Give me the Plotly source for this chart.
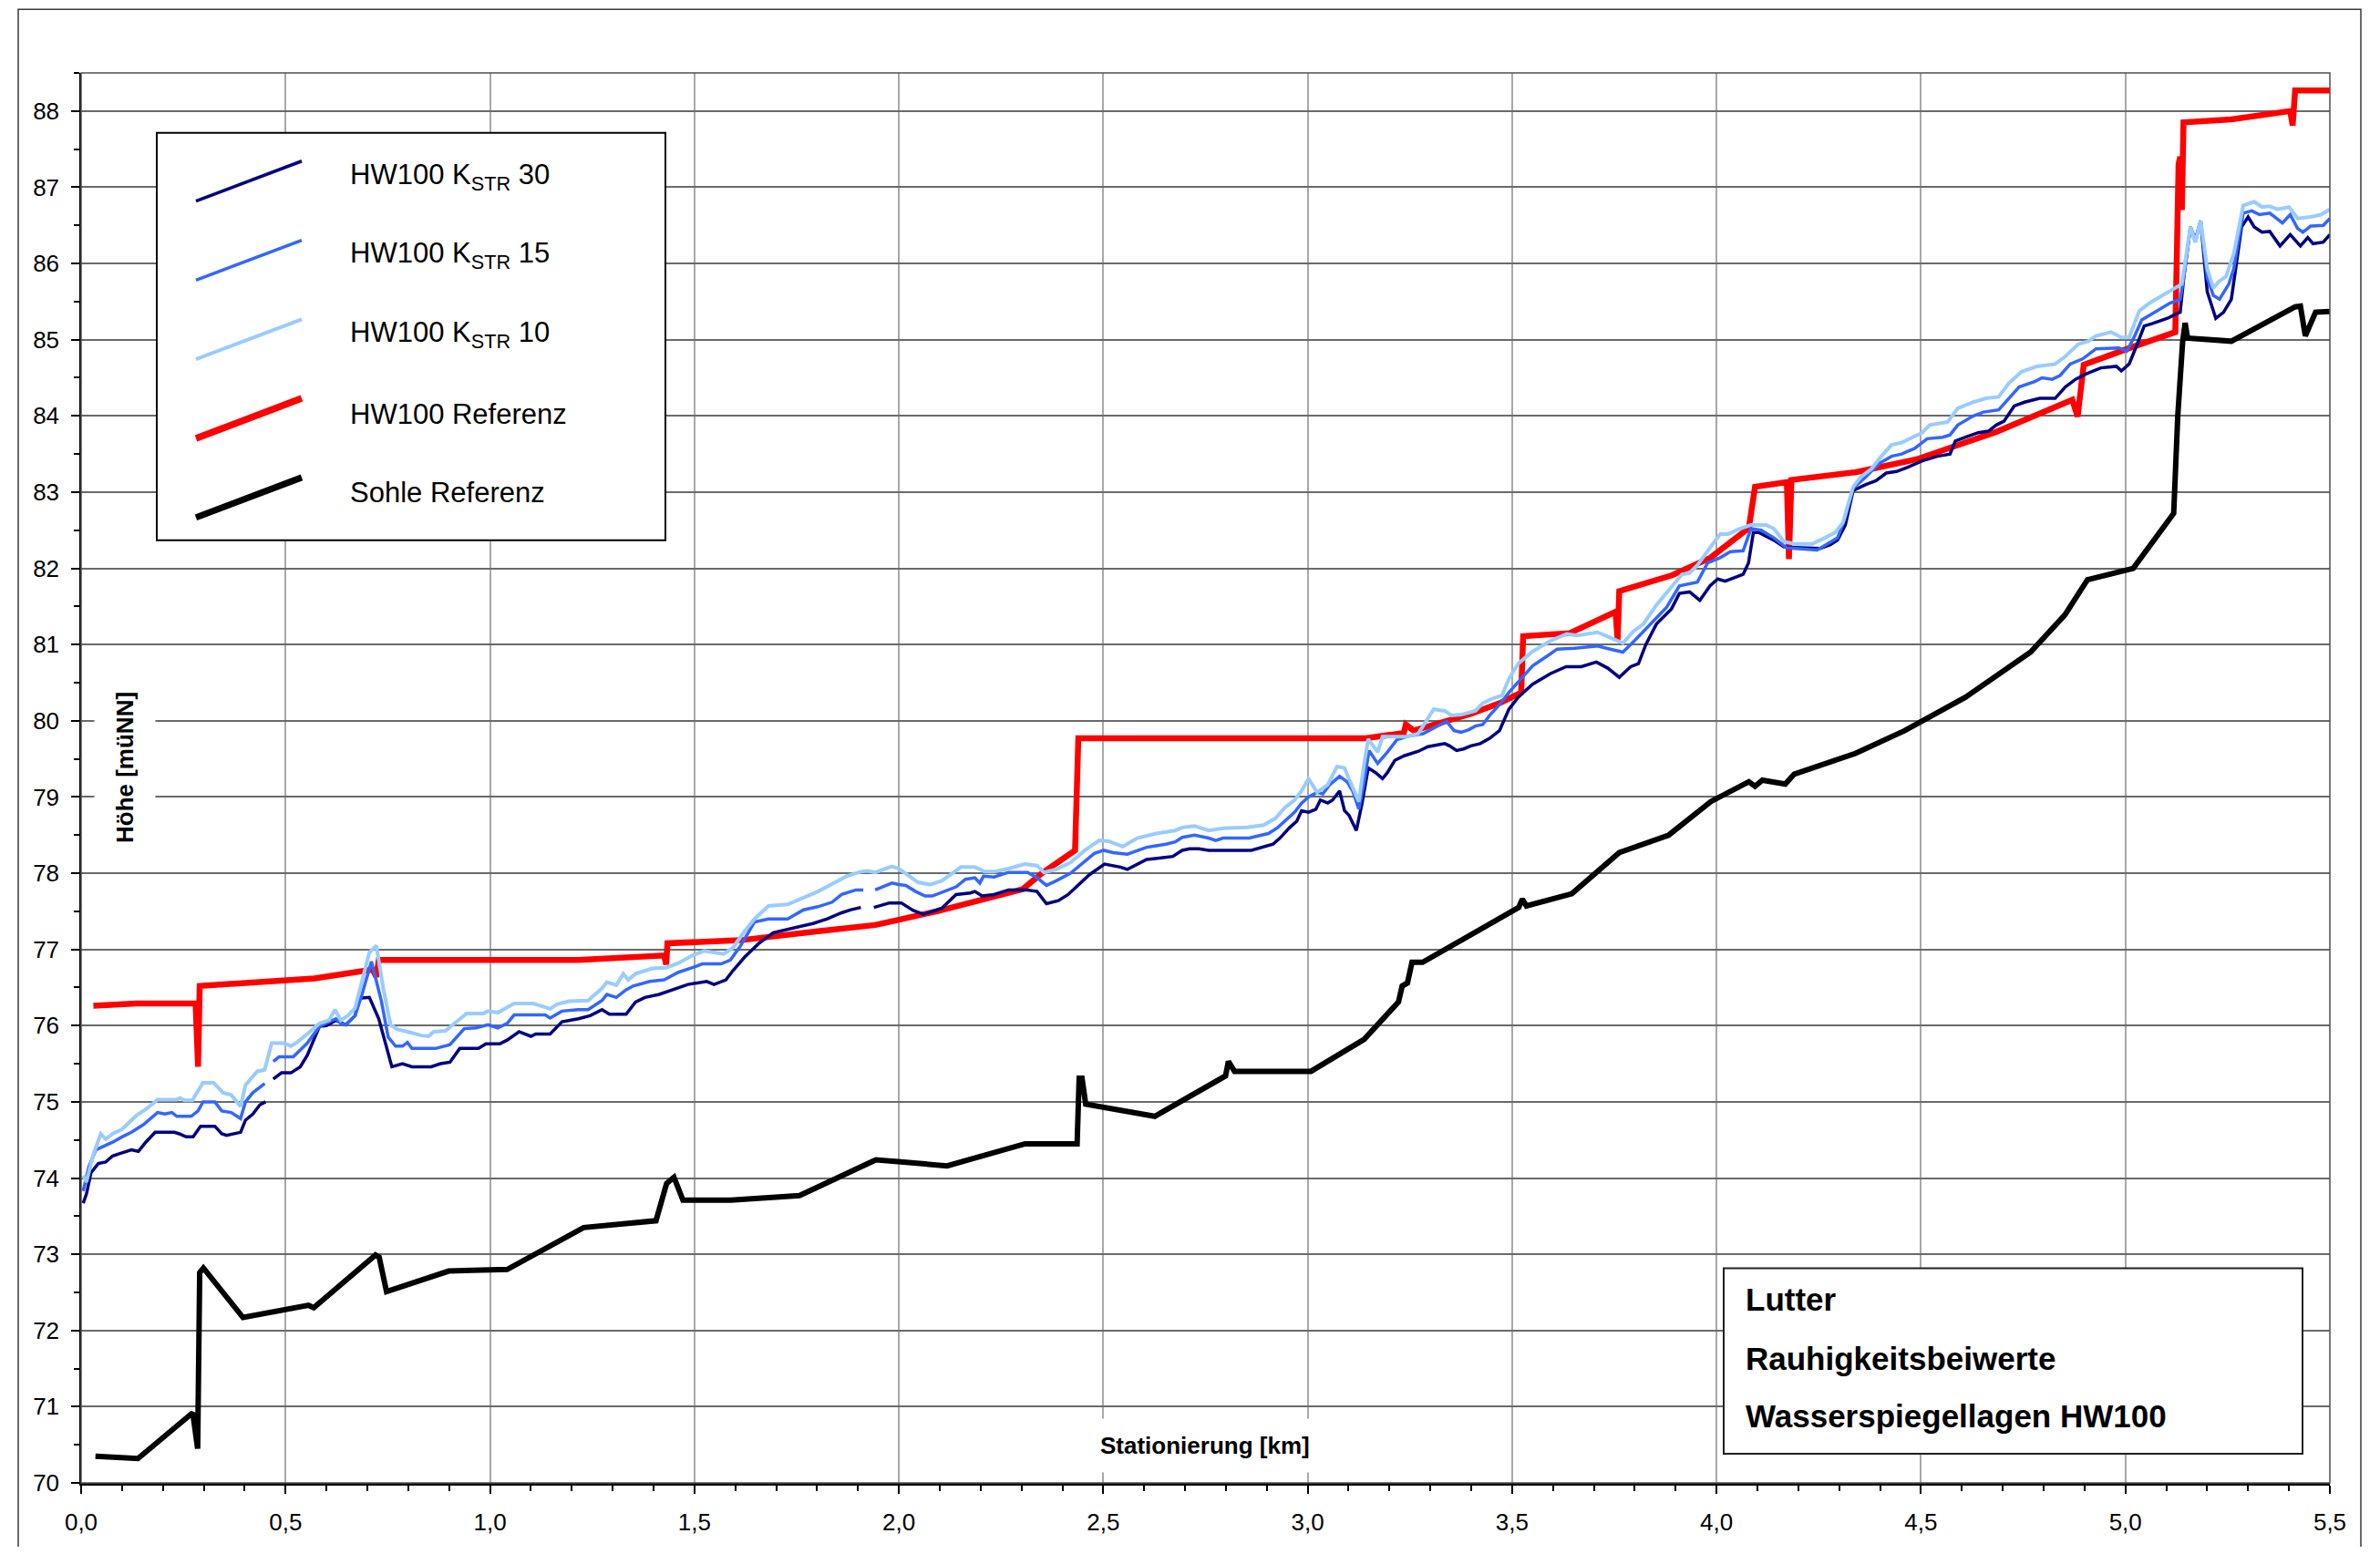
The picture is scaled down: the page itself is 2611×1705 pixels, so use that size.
import plotly.graph_objects as go

# ---------------- data ----------------
km_k30 = [0.005, 0.013, 0.024, 0.042, 0.06, 0.077, 0.1, 0.123, 0.14, 0.158, 0.181, 0.228, 0.24, 0.257, 0.274,
          0.292, 0.327, 0.344, 0.356, 0.39, 0.402, 0.42, 0.437, 0.451, None,
          0.47, 0.49, 0.513, 0.536, 0.553, 0.583, 0.6, 0.623, 0.647, 0.67, 0.681, 0.705, 0.728, 0.76, 0.786,
          0.809, 0.856, 0.879, 0.902, 0.926, 0.972, 0.99, 1.024, 1.042, 1.071, 1.1, 1.112, 1.147, 1.176, 1.216,
          1.245, 1.274, 1.292, 1.333, 1.356, 1.379, 1.414, 1.449, 1.484, 1.53, 1.548, 1.577, 1.594, 1.623,
          1.658, 1.693, 1.728, 1.763, 1.79, 1.825, 1.86, 1.883, 1.907, None,
          1.939, 1.977, 2.006, 2.035, 2.06, 2.105, 2.14, 2.175, 2.186, 2.204, 2.233, 2.268, 2.315, 2.338, 2.361,
          2.373, 2.39, 2.414, 2.437, 2.466, 2.503, 2.524, 2.542, 2.559, 2.583, 2.606, 2.641, 2.67, 2.693, 2.711,
          2.734, 2.758, 2.862, 2.892, 2.915, 2.932, 2.956, 2.973, 2.985, 3.002, 3.02, 3.031, 3.049, 3.061, 3.078,
          3.09, 3.101, 3.119, 3.133, 3.148, 3.166, 3.183, 3.195, 3.213, 3.236, 3.271, 3.294, 3.335, 3.347, 3.364,
          3.381, 3.399, 3.422, 3.445, 3.469, 3.492, 3.515, 3.55, 3.594, 3.632, 3.669, 3.706, 3.734, 3.762, 3.79,
          3.809, 3.827, 3.853, 3.89, 3.909, 3.934, 3.959, 3.984, 4.003, 4.021, 4.065, 4.078, 4.09, 4.103, 4.14,
          4.165, 4.253, 4.278, 4.296, 4.315, 4.334, 4.365, 4.39, 4.415, 4.44, 4.465, 4.503, 4.54, 4.571, 4.584,
          4.609, 4.64, 4.665, 4.684, 4.703, 4.728, 4.753, 4.79, 4.828, 4.853, 4.878, 4.903, 4.94, 4.978, 4.99,
          5.009, 5.028, 5.046, 5.065, 5.103, 5.121, 5.134, 5.143, 5.159, 5.171, 5.184, 5.2, 5.221, 5.24, 5.259,
          5.271, 5.284, 5.3, 5.315, 5.334, 5.353, 5.378, 5.403, 5.428, 5.446, 5.459, 5.484, 5.5]
h_k30 = [73.67, 73.79, 74.07, 74.19, 74.21, 74.29, 74.33, 74.37, 74.35, 74.47, 74.6, 74.6, 74.58, 74.54, 74.54,
         74.68, 74.68, 74.58, 74.56, 74.6, 74.76, 74.84, 74.96, 75.0, None,
         75.3, 75.38, 75.38, 75.46, 75.61, 75.99, 76.0, 76.07, 76.01, 76.13, 76.36, 76.37, 76.09, 75.46, 75.5,
         75.46, 75.46, 75.5, 75.52, 75.7, 75.7, 75.76, 75.76, 75.81, 75.92, 75.86, 75.89, 75.89, 76.05, 76.09,
         76.13, 76.21, 76.15, 76.15, 76.31, 76.37, 76.41, 76.47, 76.54, 76.58, 76.54, 76.6, 76.72, 76.9,
         77.08, 77.22, 77.26, 77.3, 77.34, 77.4, 77.48, 77.52, 77.55, None,
         77.55, 77.61, 77.61, 77.51, 77.46, 77.54, 77.72, 77.74, 77.76, 77.7, 77.72, 77.78, 77.78, 77.76, 77.6,
         77.62, 77.64, 77.72, 77.84, 77.98, 78.12, 78.1, 78.08, 78.05, 78.12, 78.18, 78.2, 78.22, 78.3, 78.32,
         78.32, 78.3, 78.3, 78.34, 78.38, 78.46, 78.6, 78.68, 78.82, 78.8, 78.84, 78.96, 78.92, 78.96, 79.08,
         78.82, 78.76, 78.56, 78.92, 79.38, 79.32, 79.24, 79.32, 79.48, 79.54, 79.6, 79.66, 79.7, 79.67, 79.61,
         79.63, 79.67, 79.7, 79.77, 79.87, 80.15, 80.31, 80.48, 80.62, 80.71, 80.71, 80.77, 80.69, 80.57, 80.71,
         80.75, 81.0, 81.27, 81.47, 81.67, 81.69, 81.58, 81.77, 81.86, 81.83, 81.92, 82.07, 82.47, 82.47, 82.37,
         82.28, 82.26, 82.31, 82.37, 82.57, 83.02, 83.1, 83.15, 83.25, 83.27, 83.32, 83.41, 83.47, 83.5, 83.67,
         83.72, 83.78, 83.8, 83.88, 83.93, 84.13, 84.18, 84.23, 84.23, 84.38, 84.48, 84.55, 84.63, 84.65, 84.59,
         84.68, 84.93, 85.18, 85.21, 85.28, 85.33, 85.36, 85.83, 86.48, 86.31, 86.56, 85.63, 85.28, 85.36, 85.53,
         85.98, 86.48, 86.61, 86.48, 86.41, 86.42, 86.23, 86.38, 86.23, 86.34, 86.26, 86.28, 86.38]

km_k15 = [0.005, 0.019, 0.036, 0.053, 0.077, 0.1, 0.123, 0.152, 0.187, 0.205, 0.222, 0.234, 0.269, 0.286, 0.298,
          0.327, 0.344, 0.367, 0.39, 0.402, 0.42, 0.449, None,
          0.47, 0.484, 0.519, 0.53, 0.553, 0.583, 0.6, 0.623, 0.635, 0.647, 0.67, 0.687, 0.71, 0.734, 0.751,
          0.769, 0.786, 0.798, 0.809, 0.867, 0.902, 0.937, 0.966, 0.995, 1.019, 1.042, 1.059, 1.135, 1.147,
          1.176, 1.216, 1.24, 1.274, 1.286, 1.309, 1.333, 1.35, 1.391, 1.426, 1.461, 1.495, 1.519, 1.565, 1.588,
          1.612, 1.647, 1.681, 1.728, 1.767, 1.802, 1.837, 1.86, 1.895, 1.913, None,
          1.942, 1.983, 2.0, 2.017, 2.041, 2.064, 2.082, 2.105, 2.14, 2.163, 2.186, 2.198, 2.207, 2.233, 2.268,
          2.315, 2.338, 2.361, 2.385, 2.42, 2.455, 2.478, 2.501, 2.524, 2.559, 2.583, 2.606, 2.653, 2.676, 2.693,
          2.723, 2.758, 2.775, 2.793, 2.857, 2.887, 2.904, 2.927, 2.944, 2.968, 2.985, 3.002, 3.023, 3.037, 3.054,
          3.078, 3.096, 3.11, 3.125, 3.137, 3.15, 3.171, 3.195, 3.218, 3.247, 3.282, 3.317, 3.34, 3.358, 3.375,
          3.393, 3.41, 3.428, 3.445, 3.469, 3.492, 3.515, 3.55, 3.594, 3.61, 3.653, 3.709, 3.74, 3.771, 3.803,
          3.84, 3.878, 3.909, 3.928, 3.953, 3.978, 4.009, 4.034, 4.065, 4.084, 4.109, 4.14, 4.171, 4.246, 4.271,
          4.296, 4.315, 4.334, 4.365, 4.396, 4.428, 4.453, 4.465, 4.484, 4.515, 4.553, 4.571, 4.59, 4.628, 4.653,
          4.69, 4.709, 4.74, 4.778, 4.796, 4.821, 4.84, 4.865, 4.896, 4.928, 4.965, 4.984, 5.003, 5.021, 5.04,
          5.071, 5.109, 5.134, 5.143, 5.159, 5.171, 5.184, 5.2, 5.215, 5.23, 5.253, 5.265, 5.288, 5.309, 5.328,
          5.353, 5.384, 5.403, 5.421, 5.434, 5.453, 5.484, 5.5]
h_k15 = [73.83, 74.15, 74.37, 74.41, 74.47, 74.54, 74.6, 74.7, 74.86, 74.84, 74.86, 74.81, 74.81, 74.88, 75.0,
         75.0, 74.88, 74.86, 74.78, 75.0, 75.12, 75.24, None,
         75.53, 75.59, 75.59, 75.65, 75.77, 75.99, 76.03, 76.09, 76.03, 76.01, 76.13, 76.41, 76.84, 76.33, 75.85,
         75.73, 75.73, 75.78, 75.7, 75.7, 75.75, 75.96, 75.97, 76.01, 75.97, 76.03, 76.14, 76.14, 76.1,
         76.19, 76.21, 76.21, 76.33, 76.41, 76.37, 76.47, 76.52, 76.58, 76.6, 76.7, 76.76, 76.81, 76.81, 76.86,
         77.04, 77.36, 77.4, 77.4, 77.52, 77.56, 77.62, 77.72, 77.78, 77.78, None,
         77.78, 77.87, 77.85, 77.84, 77.76, 77.7, 77.7, 77.75, 77.82, 77.92, 77.94, 77.87, 77.96, 77.95, 78.01,
         78.01, 77.94, 77.84, 77.9, 78.0, 78.16, 78.26, 78.3, 78.27, 78.25, 78.3, 78.34, 78.38, 78.41, 78.47,
         78.5, 78.46, 78.43, 78.46, 78.46, 78.5, 78.52, 78.6, 78.68, 78.8, 78.92, 79.0, 79.06, 79.04, 79.16,
         79.27, 79.2, 79.08, 78.84, 79.16, 79.61, 79.44, 79.59, 79.75, 79.8, 79.83, 79.93, 79.99, 79.87, 79.85,
         79.88, 79.93, 79.95, 80.07, 80.21, 80.37, 80.51, 80.72, 80.88, 80.94, 80.95, 80.98, 80.94, 80.9, 81.07,
         81.27, 81.49, 81.77, 81.79, 81.82, 82.07, 82.14, 82.22, 82.23, 82.52, 82.5, 82.4, 82.27, 82.24, 82.32,
         82.4, 82.67, 83.05, 83.2, 83.37, 83.47, 83.5, 83.53, 83.57, 83.7, 83.72, 83.75, 83.88, 84.0, 84.05,
         84.08, 84.2, 84.38, 84.45, 84.5, 84.48, 84.53, 84.68, 84.75, 84.88, 84.89, 84.89, 84.85, 85.03, 85.26,
         85.36, 85.48, 85.53, 85.83, 86.48, 86.28, 86.56, 85.81, 85.58, 85.53, 85.73, 85.93, 86.66, 86.69, 86.64,
         86.66, 86.53, 86.64, 86.46, 86.41, 86.49, 86.5, 86.59]

km_k10 = [0.005, 0.013, 0.03, 0.048, 0.06, 0.077, 0.1, 0.135, 0.158, 0.187, 0.234, 0.242, 0.253, 0.272, 0.298,
          0.324, 0.347, 0.367, 0.39, 0.402, 0.431, 0.449, 0.466, 0.495, 0.513, 0.53, 0.553, 0.583, 0.606, 0.621,
          0.635, 0.652, 0.67, 0.687, 0.705, 0.722, 0.739, 0.757, 0.774, 0.798, 0.833, 0.85, 0.862, 0.891, 0.914,
          0.943, 0.984, 0.995, 1.019, 1.059, 1.106, 1.147, 1.164, 1.193, 1.24, 1.274, 1.286, 1.309, 1.326, 1.338,
          1.356, 1.397, 1.431, 1.461, 1.495, 1.524, 1.571, 1.594, 1.623, 1.647, 1.681, 1.728, 1.767, 1.802, 1.837,
          1.872, 1.907, 1.924, 1.942, 1.983, 2.0, 2.017, 2.047, 2.076, 2.105, 2.152, 2.186, 2.21, 2.233, 2.268,
          2.308, 2.338, 2.355, 2.385, 2.42, 2.455, 2.49, 2.513, 2.548, 2.583, 2.629, 2.676, 2.693, 2.723, 2.758,
          2.793, 2.851, 2.892, 2.921, 2.944, 2.968, 2.985, 3.002, 3.023, 3.049, 3.072, 3.09, 3.107, 3.125, 3.137,
          3.148, 3.171, 3.183, 3.241, 3.27, 3.294, 3.308, 3.335, 3.352, 3.375, 3.41, 3.428, 3.451, 3.475, 3.492,
          3.515, 3.55, 3.594, 3.634, 3.659, 3.684, 3.709, 3.74, 3.771, 3.796, 3.821, 3.853, 3.884, 3.915, 3.934,
          3.953, 3.984, 4.009, 4.028, 4.053, 4.084, 4.121, 4.14, 4.165, 4.19, 4.234, 4.265, 4.29, 4.309, 4.334,
          4.353, 4.378, 4.403, 4.428, 4.453, 4.478, 4.503, 4.521, 4.54, 4.565, 4.59, 4.628, 4.659, 4.69, 4.715,
          4.746, 4.784, 4.828, 4.853, 4.884, 4.909, 4.928, 4.965, 4.99, 5.009, 5.034, 5.059, 5.09, 5.121, 5.138,
          5.159, 5.171, 5.184, 5.2, 5.215, 5.228, 5.246, 5.265, 5.288, 5.315, 5.334, 5.353, 5.371, 5.4, 5.421,
          5.453, 5.478, 5.5]
h_k10 = [74.03, 73.95, 74.31, 74.58, 74.51, 74.58, 74.64, 74.82, 74.9, 75.03, 75.03, 75.05, 75.02, 75.02, 75.25,
         75.25, 75.12, 75.09, 74.94, 75.22, 75.4, 75.42, 75.77, 75.77, 75.73, 75.79, 75.89, 76.03, 76.07, 76.21,
         76.07, 76.13, 76.23, 76.58, 76.96, 77.05, 76.49, 76.01, 75.95, 75.92, 75.87, 75.86, 75.92, 75.93, 76.03,
         76.16, 76.16, 76.19, 76.17, 76.29, 76.29, 76.22, 76.28, 76.32, 76.33, 76.49, 76.57, 76.53, 76.68, 76.6,
         76.68, 76.75, 76.76, 76.82, 76.92, 76.98, 76.94, 77.02, 77.24, 77.4, 77.57, 77.59, 77.68, 77.76, 77.86,
         77.96, 78.02, 78.03, 78.01, 78.09, 78.06, 78.0, 77.88, 77.85, 77.9, 78.08, 78.08, 78.02, 78.02, 78.06,
         78.12, 78.1, 78.01, 78.05, 78.14, 78.3, 78.43, 78.42, 78.35, 78.46, 78.52, 78.56, 78.6, 78.62, 78.56,
         78.59, 78.6, 78.63, 78.72, 78.86, 78.96, 79.08, 79.24, 79.06, 79.16, 79.4, 79.38, 79.16, 78.94, 79.4,
         79.76, 79.59, 79.79, 79.79, 79.83, 80.03, 80.15, 80.13, 80.07, 80.08, 80.13, 80.23, 80.29, 80.33, 80.55,
         80.75, 80.91, 81.05, 81.14, 81.12, 81.14, 81.16, 81.09, 81.02, 81.17, 81.27, 81.52, 81.72, 81.92, 81.94,
         82.04, 82.27, 82.45, 82.45, 82.51, 82.57, 82.57, 82.52, 82.35, 82.32, 82.32, 82.4, 82.47, 82.6, 83.07,
         83.2, 83.3, 83.47, 83.62, 83.65, 83.72, 83.78, 83.88, 83.9, 83.92, 84.1, 84.18, 84.23, 84.25, 84.43,
         84.58, 84.65, 84.68, 84.78, 84.94, 84.98, 85.05, 85.1, 85.03, 85.03, 85.38, 85.48, 85.58, 85.68, 85.73,
         86.48, 86.28, 86.56, 85.93, 85.68, 85.76, 85.83, 86.13, 86.76, 86.81, 86.74, 86.75, 86.71, 86.74, 86.59,
         86.61, 86.64, 86.71]

km_ref = [0.03, 0.135, 0.28, 0.286, 0.29, 0.449, 0.565, 0.571, 0.705, 0.714, 0.722, 0.728, 1.216, 1.408, 1.426,
          1.431, 1.434, 1.612, 1.728, 1.807, 1.942, 2.093, 2.21, 2.303, 2.35, 2.431, 2.439, 3.142, 3.235, 3.24,
          3.259, 3.34, 3.399, 3.469, 3.522, 3.527, 3.641, 3.753, 3.758, 3.762, 3.892, 3.985, 4.079, 4.094, 4.172,
          4.177, 4.183, 4.339, 4.489, 4.581, 4.684, 4.768, 4.87, 4.883, 4.898, 5.01, 5.122, 5.13, 5.134, 5.138,
          5.142, 5.259, 5.403, 5.409, 5.415, 5.5]
h_ref = [76.26, 76.29, 76.29, 75.46, 76.52, 76.57, 76.6, 76.62, 76.73, 76.73, 76.64, 76.86, 76.86, 76.9, 76.92,
         76.8, 77.08, 77.12, 77.18, 77.24, 77.32, 77.5, 77.66, 77.79, 78.0, 78.3, 79.77, 79.77, 79.84, 79.95,
         79.87, 79.99, 80.09, 80.23, 80.37, 81.11, 81.15, 81.43, 81.05, 81.7, 81.91, 82.14, 82.53, 83.07, 83.13,
         82.12, 83.16, 83.26, 83.43, 83.6, 83.79, 83.98, 84.21, 83.99, 84.67, 84.89, 85.1, 87.3, 87.4, 86.7,
         87.85, 87.89, 88.0, 87.81, 88.27, 88.27]

km_sohle = [0.035, 0.139, 0.273, 0.285, 0.29, 0.299, 0.396, 0.556, 0.569, 0.72, 0.729, 0.747, 0.899, 1.042,
            1.229, 1.406, 1.432, 1.45, 1.472, 1.589, 1.757, 1.944, 2.118, 2.309, 2.436, 2.441, 2.448, 2.457,
            2.626, 2.799, 2.806, 2.821, 3.008, 3.138, 3.222, 3.231, 3.244, 3.255, 3.281, 3.516, 3.525, 3.535,
            3.646, 3.762, 3.883, 3.986, 4.079, 4.094, 4.112, 4.168, 4.19, 4.339, 4.46, 4.609, 4.768, 4.852,
            4.907, 5.019, 5.118, 5.128, 5.14, 5.146, 5.152, 5.259, 5.415, 5.428, 5.44, 5.465, 5.5]
h_sohle = [70.35, 70.32, 70.92, 70.45, 72.76, 72.82, 72.17, 72.33, 72.3, 72.99, 72.96, 72.51, 72.78, 72.8,
           73.35, 73.44, 73.93, 74.01, 73.71, 73.71, 73.77, 74.24, 74.16, 74.45, 74.45, 75.31, 75.31, 74.97,
           74.81, 75.34, 75.53, 75.4, 75.4, 75.82, 76.31, 76.52, 76.56, 76.83, 76.83, 77.55, 77.66, 77.57,
           77.73, 78.27, 78.5, 78.94, 79.2, 79.14, 79.22, 79.17, 79.3, 79.57, 79.87, 80.31, 80.9, 81.39,
           81.85, 82.0, 82.72, 84.0, 84.98, 85.22, 85.02, 84.98, 85.43, 85.44, 85.05, 85.36, 85.37]

series_names = ["HW100 K<sub>STR</sub> 30", "HW100 K<sub>STR</sub> 15", "HW100 K<sub>STR</sub> 10",
                "HW100 Referenz", "Sohle Referenz"]
series_colors = ["#000080", "#3366FF", "#99CCFF", "#FF0000", "#000000"]
series_widths = [3.5, 3.5, 4, 6.5, 6]

info_lines = ["Lutter", "Rauhigkeitsbeiwerte", "Wasserspiegellagen HW100"]
x_title = "Stationierung [km]"
y_title = "Höhe [müNN]"

# ---------------- geometry (pixel positions on the 2611x1705 page) ----------------
BODY = 8                      # default page margin of the html body
W, H = 2611 - 2 * BODY, 1705 - 2 * BODY
L, R, T, B = 89, 2556, 80, 1631   # plot area edges on the page


def px(X):
    return (X - L) / (R - L)


def py(Y):
    return (B - Y) / (B - T)


FONT = "Liberation Sans, Arial, sans-serif"

fig = go.Figure()
order = [4, 3, 0, 1, 2]
data = [(km_k30, h_k30), (km_k15, h_k15), (km_k10, h_k10), (km_ref, h_ref), (km_sohle, h_sohle)]
for i in order:
    xs, ys = data[i]
    fig.add_trace(go.Scatter(x=xs, y=ys, mode="lines", name=series_names[i], connectgaps=False,
                             line=dict(color=series_colors[i], width=series_widths[i]),
                             showlegend=False, hoverinfo="x+y"))

shapes = []
annotations = []

# outer chart border
shapes.append(dict(type="rect", xref="paper", yref="paper", x0=px(20), x1=px(2590), y0=py(1740), y1=py(10),
                   line=dict(color="#3a3a3a", width=1.5), fillcolor="rgba(0,0,0,0)", layer="above"))
# plot-area frame (top / right)
shapes.append(dict(type="rect", xref="paper", yref="paper", x0=0, x1=1, y0=0, y1=1,
                   line=dict(color="#505050", width=1.5), fillcolor="rgba(0,0,0,0)", layer="above"))

# legend box
shapes.append(dict(type="rect", xref="paper", yref="paper", x0=px(172), x1=px(730), y0=py(594), y1=py(146),
                   line=dict(color="black", width=2), fillcolor="white", layer="above"))
for k in range(5):
    ty = 194 + 87 * k
    cy = ty + 5
    shapes.append(dict(type="line", xref="paper", yref="paper", x0=px(215), x1=px(331),
                       y0=py(cy + 22), y1=py(cy - 22),
                       line=dict(color=series_colors[k], width=series_widths[k] + (1 if k > 2 else 0)),
                       layer="above"))
    annotations.append(dict(xref="paper", yref="paper", x=px(382), y=py(ty), xanchor="left", yanchor="middle",
                            text=series_names[k], showarrow=False,
                            font=dict(family=FONT, size=31, color="black")))

# info text box
shapes.append(dict(type="rect", xref="paper", yref="paper", x0=px(1891), x1=px(2526), y0=py(1599), y1=py(1395),
                   line=dict(color="#202020", width=2), fillcolor="white", layer="above"))
for txt, yc in zip(info_lines, [1429, 1494, 1557]):
    annotations.append(dict(xref="paper", yref="paper", x=px(1913), y=py(yc), xanchor="left", yanchor="middle",
                            text="<b>" + txt + "</b>", showarrow=False,
                            font=dict(family=FONT, size=35, color="black")))

# axis titles (inside plot area, with white background)
annotations.append(dict(xref="paper", yref="paper", x=px(1322), y=py(1590), xanchor="center", yanchor="middle",
                        text="<b>" + x_title + "</b>", showarrow=False, bgcolor="white", borderpad=14,
                        font=dict(family=FONT, size=26, color="black")))
annotations.append(dict(xref="paper", yref="paper", x=px(137), y=py(844), xanchor="center", yanchor="middle",
                        text="<b>" + y_title + "</b>", showarrow=False, bgcolor="white", borderpad=18,
                        textangle=-90, font=dict(family=FONT, size=26, color="black")))

fig.update_layout(
    width=W, height=H,
    margin=dict(l=L - BODY, r=W - (R - BODY), t=T - BODY, b=H - (B - BODY), pad=0),
    paper_bgcolor="white", plot_bgcolor="white",
    separators=",.",
    shapes=shapes, annotations=annotations,
    showlegend=False,
    font=dict(family=FONT, color="black"),
    xaxis=dict(range=[0, 5.5], tick0=0, dtick=0.5, tickformat=".1f", showgrid=True, gridcolor="#a8a8a8",
               gridwidth=1.5, zeroline=False, showline=True, linecolor="black", linewidth=3,
               ticks="outside", ticklen=9, tickwidth=1.5, tickcolor="black", ticklabelstandoff=9,
               tickfont=dict(family=FONT, size=26, color="black"),
               minor=dict(dtick=0.1, tick0=0, ticks="outside", ticklen=6, tickwidth=1.5, tickcolor="black",
                          showgrid=False)),
    yaxis=dict(range=[70, 88.5], tick0=70, dtick=1, tickformat="d", showgrid=True, gridcolor="#6a6a6a",
               gridwidth=1.5, zeroline=False, showline=True, linecolor="black", linewidth=1.5,
               ticks="outside", ticklen=9, tickwidth=1.5, tickcolor="black", ticklabelstandoff=8,
               tickfont=dict(family=FONT, size=26, color="black"),
               minor=dict(dtick=0.5, tick0=70, ticks="outside", ticklen=6, tickwidth=1.5, tickcolor="black",
                          showgrid=False)),
)

fig.write_html("out.html")
